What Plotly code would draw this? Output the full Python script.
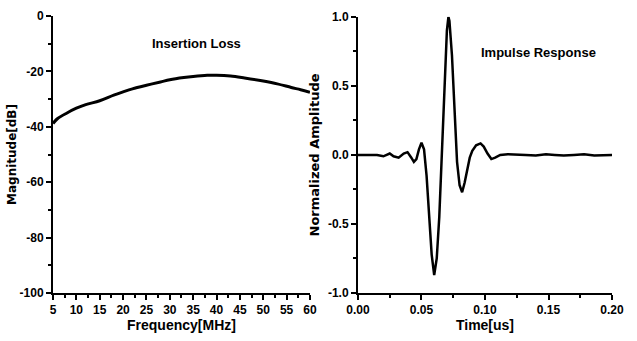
import plotly.graph_objects as go

# Insertion loss data
freq_mhz = [5, 6, 8, 10, 12, 15, 18, 20, 22, 25, 28, 30, 33, 35, 38, 40, 43, 46, 50, 53, 56, 58, 60]
loss_db = [-38.8, -37.0, -35.0, -33.3, -32.0, -30.6, -28.6, -27.4, -26.3, -25.0, -23.8, -23.0, -22.2,
           -21.8, -21.4, -21.4, -21.7, -22.4, -23.5, -24.5, -25.8, -26.6, -27.5]

# Impulse response data
time_us = [0.000, 0.005, 0.010, 0.015, 0.020, 0.025, 0.028, 0.032, 0.036, 0.039, 0.042, 0.044, 0.046,
           0.048, 0.050, 0.052, 0.054, 0.056, 0.058, 0.060, 0.062, 0.064, 0.066, 0.068, 0.070, 0.0712,
           0.072, 0.074, 0.076, 0.078, 0.080, 0.082, 0.084, 0.086, 0.088, 0.090, 0.093, 0.0965, 0.099,
           0.102, 0.105, 0.108, 0.112, 0.118, 0.125, 0.132, 0.140, 0.148, 0.155, 0.162, 0.170, 0.178,
           0.186, 0.194, 0.200]
amp = [0.00, 0.00, -0.005, 0.00, -0.01, 0.01, -0.01, -0.02, 0.01, 0.02, -0.02, -0.05, -0.03,
       0.04, 0.088, 0.04, -0.15, -0.45, -0.72, -0.87, -0.75, -0.45, 0.02, 0.50, 0.90, 1.00,
       0.97, 0.72, 0.35, -0.05, -0.22, -0.27, -0.20, -0.10, -0.02, 0.03, 0.07, 0.083, 0.06,
       0.01, -0.03, -0.02, 0.00, 0.005, 0.00, 0.00, -0.005, 0.005, 0.00, -0.005, 0.00, 0.005,
       -0.005, 0.00, 0.00]

left_yticks = [0, -20, -40, -60, -80, -100]
left_ytext = ["0", "-20", "-40", "-60", "-80", "-100"]
left_xticks = [5, 10, 15, 20, 25, 30, 35, 40, 45, 50, 55, 60]
right_yticks = [1.0, 0.5, 0.0, -0.5, -1.0]
right_ytext = ["1.0", "0.5", "0.0", "-0.5", "-1.0"]
right_xticks = [0.0, 0.05, 0.10, 0.15, 0.20]
right_xtext = ["0.00", "0.05", "0.10", "0.15", "0.20"]

FONT = "Liberation Sans Narrow, Arial Narrow, Liberation Sans, Arial"
tickfont = dict(family=FONT, size=12, color="black", weight="bold")
xtitlefont = dict(family=FONT, size=14, color="black", weight="bold")

fig = go.Figure()
fig.add_trace(go.Scatter(x=freq_mhz, y=loss_db, mode="lines", line=dict(color="black", width=3, shape="spline"),
                         xaxis="x", yaxis="y", showlegend=False))
fig.add_trace(go.Scatter(x=time_us, y=amp, mode="lines", line=dict(color="black", width=2.5),
                         xaxis="x2", yaxis="y2", showlegend=False))

axis_common = dict(showgrid=False, zeroline=False, showline=True, linecolor="black", linewidth=2,
                   ticks="outside", ticklen=5, tickwidth=2, tickcolor="black", tickfont=tickfont,
                   mirror=False, automargin=False)

fig.update_layout(
    width=637, height=341,
    margin=dict(l=53, r=25, t=16, b=48),
    paper_bgcolor="white", plot_bgcolor="white",
    xaxis=dict(domain=[0, 0.4597], range=[5, 60], tickvals=left_xticks,
               minor=dict(dtick=2.5, ticks="outside", ticklen=3, tickwidth=2, tickcolor="black"),
               title=dict(text="Frequency[MHz]", font=xtitlefont, standoff=2),
               anchor="y", **axis_common),
    yaxis=dict(domain=[0, 1], range=[-100, 0], tickvals=left_yticks, ticktext=left_ytext,
               minor=dict(dtick=10, ticks="outside", ticklen=3, tickwidth=2, tickcolor="black"),
               title=dict(text="Magnitude[dB]", font=dict(family="DejaVu Sans, Arial", size=12, color="black", weight="bold"), standoff=0),
               anchor="x", **axis_common),
    xaxis2=dict(domain=[0.5456, 1], range=[0, 0.2], tickvals=right_xticks, ticktext=right_xtext,
                minor=dict(dtick=0.025, ticks="outside", ticklen=3, tickwidth=2, tickcolor="black"),
                title=dict(text="Time[us]", font=xtitlefont, standoff=2),
                anchor="y2", **axis_common),
    yaxis2=dict(domain=[0, 0.997], range=[-1, 1], tickvals=right_yticks, ticktext=right_ytext,
                minor=dict(dtick=0.25, ticks="outside", ticklen=3, tickwidth=2, tickcolor="black"),
                title=dict(text="Normalized Amplitude", font=dict(family="DejaVu Sans, Arial", size=13, color="black", weight="bold"), standoff=5),
                anchor="x2", **axis_common),
    annotations=[
        dict(text="Insertion Loss", x=35.8, y=-9.8, xref="x", yref="y", showarrow=False,
             font=dict(family=FONT, size=13, color="black", weight="bold")),
        dict(text="Impulse Response", x=0.1425, y=0.74, xref="x2", yref="y2", showarrow=False,
             font=dict(family=FONT, size=13, color="black", weight="bold")),
    ],
)

fig.write_html("out.html")
